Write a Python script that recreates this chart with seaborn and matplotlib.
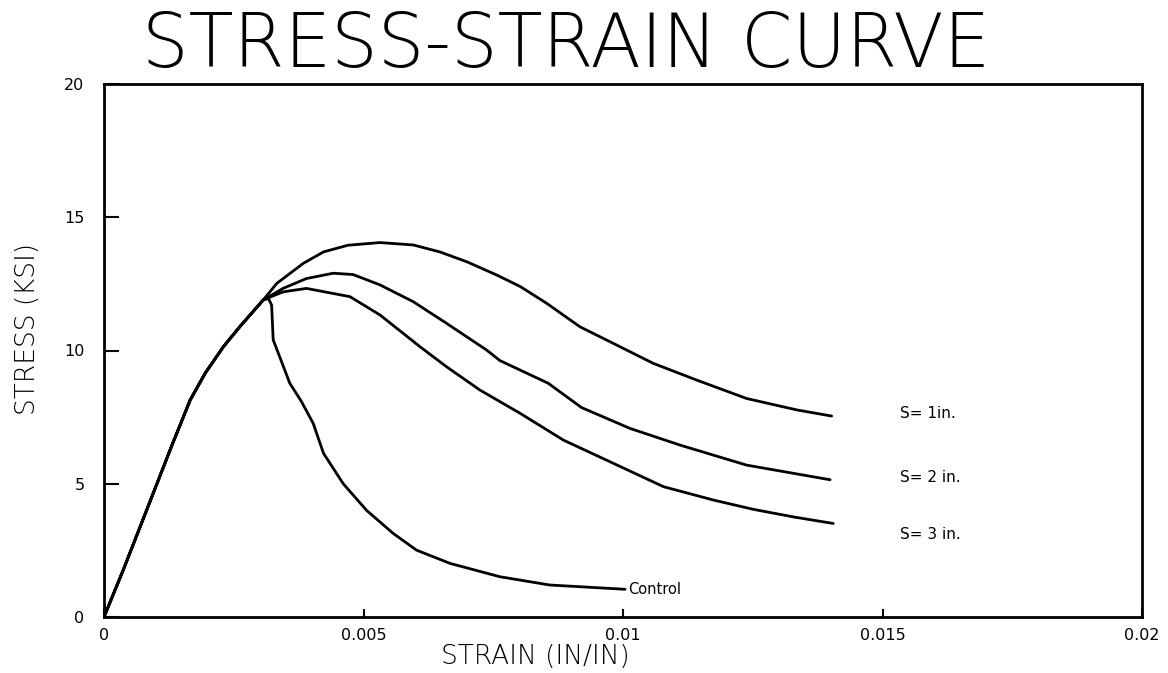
import numpy as np
import pandas as pd
import matplotlib
matplotlib.use("Agg")
import matplotlib.pyplot as plt
import seaborn as sns

# Shared elastic branch (strain in/in, stress ksi)
rise_strain = [0.0, 0.00037, 0.00102, 0.0013, 0.00166, 0.00195, 0.0023, 0.00262, 0.00307]
rise_stress = [0.0, 1.76, 5.0, 6.4, 8.14, 9.15, 10.14, 10.9, 11.9]

# Post-branch portions of each specimen
s1_strain = [0.00333, 0.00384, 0.00423, 0.0047, 0.00532, 0.00596, 0.00647, 0.00699,
             0.00757, 0.00802, 0.00853, 0.00917, 0.00981, 0.01058, 0.01142, 0.01238,
             0.01335, 0.01402]
s1_stress = [12.52, 13.27, 13.7, 13.95, 14.05, 13.96, 13.7, 13.33,
             12.83, 12.4, 11.77, 10.89, 10.27, 9.52, 8.89, 8.2,
             7.77, 7.54]

s2_strain = [0.00345, 0.0039, 0.00442, 0.0048, 0.00532, 0.00596, 0.0066, 0.00737,
             0.00763, 0.00856, 0.0092, 0.01013, 0.0111, 0.01238, 0.01399]
s2_stress = [12.33, 12.7, 12.9, 12.85, 12.46, 11.83, 11.02, 10.02,
             9.62, 8.77, 7.86, 7.08, 6.45, 5.7, 5.15]

s3_strain = [0.00345, 0.0039, 0.00474, 0.00532, 0.00609, 0.0066, 0.00724, 0.00802,
             0.00885, 0.00981, 0.01078, 0.01174, 0.01251, 0.0133, 0.01405]
s3_stress = [12.2, 12.33, 12.02, 11.33, 10.14, 9.39, 8.52, 7.64,
             6.64, 5.77, 4.89, 4.39, 4.04, 3.75, 3.51]

ctrl_strain = [0.00317, 0.00323, 0.00326, 0.00358, 0.0038, 0.00403, 0.00423, 0.00461,
               0.00506, 0.00557, 0.00602, 0.00667, 0.00763, 0.00859, 0.01004]
ctrl_stress = [11.95, 11.7, 10.4, 8.77, 8.1, 7.27, 6.14, 5.0,
               4.0, 3.14, 2.51, 2.01, 1.51, 1.2, 1.04]

series_names = ["S= 1in.", "S= 2 in.", "S= 3 in.", "Control"]
x_ticks = [0, 0.005, 0.01, 0.015, 0.02]
x_tick_labels = ["0", "0.005", "0.01", "0.015", "0.02"]
y_ticks = [0, 5, 10, 15, 20]

tails = {
    "S= 1in.": (s1_strain, s1_stress),
    "S= 2 in.": (s2_strain, s2_stress),
    "S= 3 in.": (s3_strain, s3_stress),
    "Control": (ctrl_strain, ctrl_stress),
}

frames = []
for name in series_names:
    xs, ys = tails[name]
    frames.append(pd.DataFrame({
        "strain": rise_strain + xs,
        "stress": rise_stress + ys,
        "specimen": name,
        "order": np.arange(len(rise_strain) + len(xs)),
    }))
df = pd.concat(frames, ignore_index=True)

sns.set_theme(style="white")
plt.rcParams["font.family"] = ["DejaVu Sans"]
plt.rcParams["axes.edgecolor"] = "black"
plt.rcParams["axes.linewidth"] = 2.0
plt.rcParams["lines.solid_joinstyle"] = "round"
plt.rcParams["lines.solid_capstyle"] = "round"

fig = plt.figure(figsize=(11.68, 6.73), dpi=100)
ax = fig.add_axes([104 / 1168, 1 - 617 / 673, 1038 / 1168, 533 / 673])

for name in series_names:
    sub = df[df["specimen"] == name].sort_values("order")
    sns.lineplot(data=sub, x="strain", y="stress", ax=ax, color="black",
                 linewidth=2.0, sort=False, estimator=None)

ax.set_xlim(0, 0.02)
ax.set_ylim(0, 20)
ax.set_xticks(x_ticks)
ax.set_xticklabels(x_tick_labels)
ax.set_yticks(y_ticks)
ax.tick_params(axis="x", direction="in", length=6, width=1.5, pad=8,
               labelsize=11.5, colors="black", bottom=True)
ax.tick_params(axis="y", direction="in", length=11, width=1.5, pad=14,
               labelsize=11.5, colors="black", left=True)
for side in ["top", "right", "bottom", "left"]:
    ax.spines[side].set_visible(True)
    ax.spines[side].set_color("black")
    ax.spines[side].set_linewidth(2.0)

ax.set_xlabel("STRAIN (IN/IN)", fontsize=19, color="black", fontweight="light")
ax.set_ylabel("STRESS (KSI)", fontsize=19, color="black", fontweight="light")
ax.xaxis.set_label_coords((535 - 104) / 1038, -0.05)
ax.yaxis.set_label_coords(-0.062, 0.54)

# Curve annotations
ends = {name: (tails[name][0][-1], tails[name][1][-1]) for name in series_names}
label_pos = {
    "S= 1in.": (0.01534, 7.65),
    "S= 2 in.": (0.01534, 5.25),
    "S= 3 in.": (0.01534, 3.08),
    "Control": (0.0101, ends["Control"][1]),
}
for name in series_names:
    lx, ly = label_pos[name]
    ax.text(lx, ly, name, fontsize=11 if name != "Control" else 10.5,
            ha="left", va="center", color="black")

fig.text(566 / 1168, 1 - 67 / 673, "STRESS-STRAIN CURVE", fontsize=53,
         ha="center", va="baseline", color="black", fontweight="light")

fig.savefig("out.png", dpi=100, facecolor="white")
